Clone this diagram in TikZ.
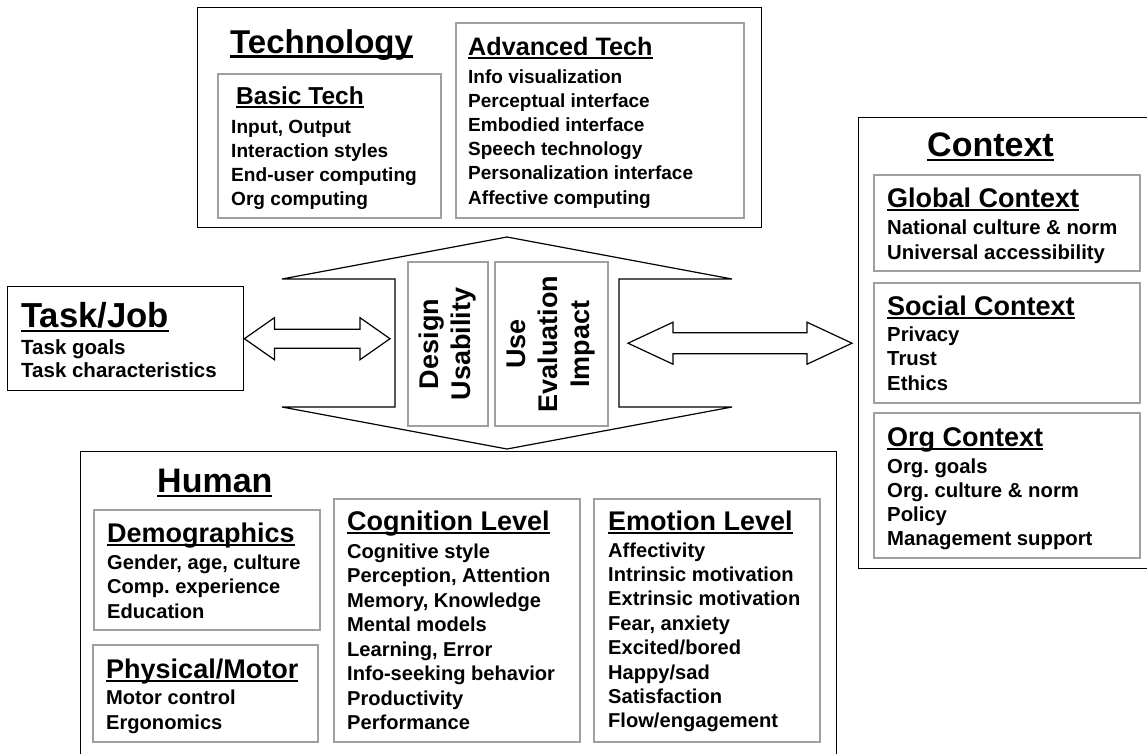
\documentclass[tikz,border=0pt]{standalone}
\usepackage{fontspec}
\setmainfont{Liberation Sans}
\usetikzlibrary{calc}
\frenchspacing
\newcommand*{\Head}[1]{% #1 = heading text, underlined
\setbox0=\hbox{#1}\rlap{\rule[-0.15em]{\wd0}{0.075em}}\box0%
}
\newcommand*{\TextLines}[6]{% #1 = name, #2 = x, #3 = first baseline, #4 = spacing, #5 = size, #6 = list of lines
\foreach \txt [count=\i] in {#6} {
\node [item=#5] (#1-\i)
at (#2,#3+#4*\i-#4) {\txt};
}%
}
\newcommand*{\FatArrow}[4]{% #1 = left tip, #2 = right tip, #3 = head length, #4 = half shaft
\draw [fatarrow] (#1) -- ($(#1)+(#3,-21)$) -- ($(#1)+(#3,-#4)$)
-- ($(#2)+(-#3,-#4)$) -- ($(#2)+(-#3,-21)$) -- (#2)
-- ($(#2)+(-#3,21)$) -- ($(#2)+(-#3,#4)$)
-- ($(#1)+(#3,#4)$) -- ($(#1)+(#3,21)$) -- cycle;
}

\begin{document}
\begin{tikzpicture}[x=1pt, y=-1pt,
    outer/.style={draw=black, line width=1.4pt, anchor=north west, inner sep=0pt},
    sub/.style={draw=gray!75, line width=1.6pt, anchor=north west, inner sep=0pt},
    head/.style={anchor=base west, inner sep=0pt, font=\bfseries\fontsize{#1}{#1}\selectfont},
    item/.style={anchor=base west, inner sep=0pt, font=\bfseries\fontsize{#1}{#1}\selectfont},
    turned/.style={draw=gray!75, line width=1.6pt, rotate=90, align=center, minimum width=164pt,
        inner sep=0pt, font=\bfseries\fontsize{27}{32}\selectfont},
    fatarrow/.style={draw=black, fill=white, line width=1.2pt, line join=miter}]

    \clip (0,0) rectangle (1147,753);

    % Technology
    \node [outer, minimum width=564pt, minimum height=220pt] (tech) at (197,7) {};
    \node [sub, minimum width=223pt, minimum height=144pt] (basic) at (217,73) {};
    \node [sub, minimum width=288pt, minimum height=195pt] (adv) at (455,22) {};
    \node [head=33] (techT) at (230,53) {\Head{Technology}};
    \node [head=24.5] (basicT) at (236,104) {\Head{Basic Tech}};
    \TextLines{basicL}{231}{133}{24}{19.1}{{Input, Output},Interaction styles,End-user computing,Org computing}
    \node [head=25.2] (advT) at (468,55) {\Head{Advanced Tech}};
    \TextLines{advL}{468}{83}{24.2}{19}{Info visualization,Perceptual interface,Embodied interface,Speech technology,Personalization interface,Affective computing}

    % Task/Job
    \node [outer, minimum width=236pt, minimum height=104pt] (task) at (7,286) {};
    \node [head=34.7] (taskT) at (21,327) {\Head{Task/Job}};
    \TextLines{taskL}{21}{354}{23.5}{20.5}{Task goals,Task characteristics}

    % Context
    \node [outer, minimum width=300pt, minimum height=451pt] (ctx) at (858,117) {};
    \node [sub, minimum width=266pt, minimum height=96pt] (glob) at (873,174) {};
    \node [sub, minimum width=266pt, minimum height=120pt] (soc) at (873,282) {};
    \node [sub, minimum width=266pt, minimum height=145pt] (org) at (873,412) {};
    \node [head=34] (ctxT) at (927,156) {\Head{Context}};
    \node [head=27] (globT) at (887,207) {\Head{Global Context}};
    \TextLines{globL}{887}{234}{25}{20.3}{National culture \& norm,Universal accessibility}
    \node [head=27] (socT) at (887,315) {\Head{Social Context}};
    \TextLines{socL}{887}{341}{24.5}{20.3}{Privacy,Trust,Ethics}
    \node [head=27] (orgT) at (887,446) {\Head{Org Context}};
    \TextLines{orgL}{887}{473}{24}{20.3}{Org. goals,Org. culture \& norm,Policy,Management support}

    % Human
    \node [outer, minimum width=756pt, minimum height=320pt] (human) at (80,451) {};
    \node [sub, minimum width=226pt, minimum height=120pt] (demo) at (93,509) {};
    \node [sub, minimum width=225pt, minimum height=97pt] (phys) at (92,644) {};
    \node [sub, minimum width=246pt, minimum height=243pt] (cogn) at (333,498) {};
    \node [sub, minimum width=226pt, minimum height=243pt] (emo) at (593,498) {};
    \node [head=34] (humanT) at (157,492) {\Head{Human}};
    \node [head=27] (demoT) at (107,542) {\Head{Demographics}};
    \TextLines{demoL}{107}{569}{24.5}{20.1}{{Gender, age, culture},Comp. experience,Education}
    \node [head=27] (physT) at (106,678) {\Head{Physical/Motor}};
    \TextLines{physL}{106}{704}{25}{20.1}{Motor control,Ergonomics}
    \node [head=27] (cognT) at (347,530) {\Head{Cognition Level}};
    \TextLines{cognL}{347}{558}{24.5}{20.1}{Cognitive style,{Perception, Attention},{Memory, Knowledge},Mental models,{Learning, Error},Info-seeking behavior,Productivity,Performance}
    \node [head=27] (emoT) at (608,530) {\Head{Emotion Level}};
    \TextLines{emoL}{608}{557}{24.4}{20.1}{Affectivity,Intrinsic motivation,Extrinsic motivation,{Fear, anxiety},Excited/bored,Happy/sad,Satisfaction,Flow/engagement}

    % centre shape
    \coordinate (hTop) at (507,237);
    \coordinate (hRo) at (732,279);
    \coordinate (hRn) at (619,279);
    \coordinate (hRs) at (619,407);
    \coordinate (hRb) at (732,407);
    \coordinate (hBot) at (507,449);
    \coordinate (hLb) at (282,407);
    \coordinate (hLs) at (395,407);
    \coordinate (hLn) at (395,279);
    \coordinate (hLo) at (282,279);
    \draw [line width=1.2pt] (hTop) -- (hRo) -- (hRn) -- (hRs) -- (hRb) -- (hBot)
        -- (hLb) -- (hLs) -- (hLn) -- (hLo) -- cycle;
    \node [turned, minimum height=80pt] (design) at (448,344) {Design\\Usability};
    \node [turned, minimum height=113pt] (use) at (551.5,344) {Use\\Evaluation\\Impact};

    % arrows
    \coordinate (lA) at (task.east);
    \coordinate (lB) at ($(task.east -| hLn)+(-5,0)$);
    \coordinate (rA) at ($(ctx.west -| hRn)+(9,0)$);
    \coordinate (rB) at ($(ctx.west)+(-6,0)$);
    \FatArrow{lA}{lB}{30}{9.5}
    \FatArrow{rA}{rB}{45}{10.5}

\end{tikzpicture}
\end{document}
